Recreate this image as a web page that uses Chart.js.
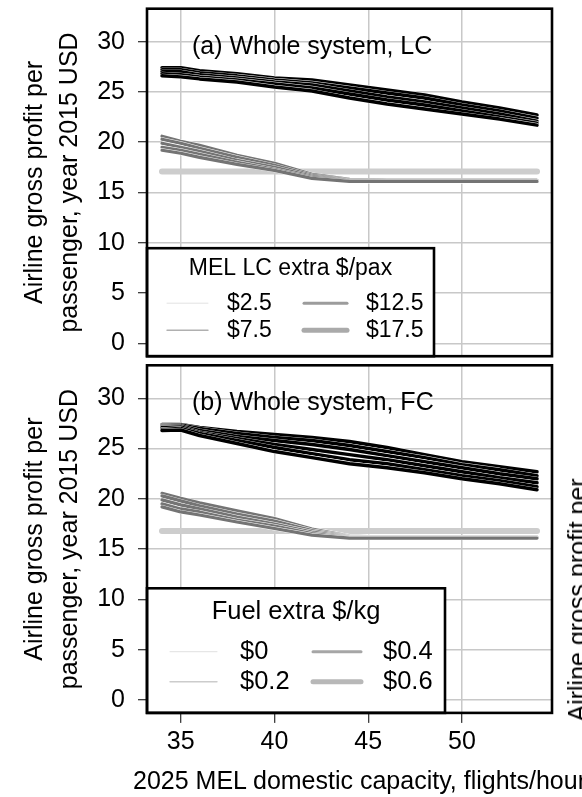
<!DOCTYPE html>
<html>
<head>
<meta charset="utf-8">
<title>Airline gross profit per passenger</title>
<script src="https://cdn.jsdelivr.net/npm/chart.js@4.4.1/dist/chart.umd.min.js"></script>
<style>
  html, body { margin:0; padding:0; background:#fff; }
  body { width:582px; height:797px; position:relative; overflow:hidden;
         font-family:"Liberation Sans", Arial, Helvetica, sans-serif; color:#000; }
  canvas { position:absolute; left:0; }
  #panelA { top:0; }
  #panelB { top:356px; }
  .htext { position:absolute; white-space:nowrap; font-size:25px; line-height:26px; }
  #xTitle { left:133px; top:767px; }
  #rightLabel { left:577px; top:600px; transform: translate(-50%,-50%) rotate(-90deg); }
</style>
</head>
<body>
<canvas id="panelA" width="582" height="362"></canvas>
<canvas id="panelB" width="582" height="441"></canvas>
<div id="xTitle" class="htext"></div>
<div id="rightLabel" class="htext"></div>
<script>
const FONT = '"Liberation Sans", Arial, Helvetica, sans-serif';

// ---------- data ----------
const xValues = [34, 35, 36, 38, 40, 42, 44, 46, 48, 50, 52, 54];
const flatX = [34, 54];
const xTicks = [35, 40, 45, 50];
const yTicks = [0, 5, 10, 15, 20, 25, 30];
const xRange = [33.2, 54.8];
const yRange = [-1.28, 33.28];

const panelTitles = ['(a) Whole system, LC', '(b) Whole system, FC'];
const legendTitles = ['MEL LC extra $/pax', 'Fuel extra $/kg'];
const legendLabelsA = ['$2.5', '$7.5', '$12.5', '$17.5'];
const legendLabelsB = ['$0', '$0.2', '$0.4', '$0.6'];
const yTitle = ['Airline gross profit per', 'passenger, year 2015 USD'];
const xTitle = '2025 MEL domestic capacity, flights/hour';
const rightLabel = 'Airline gross profit per';

// panel (a)
const blackA1 = [27.4, 27.4, 27.1, 26.8, 26.4, 26.2, 25.7, 25.2, 24.7, 24.0, 23.4, 22.7];
const blackA2 = [27.2, 27.2, 26.9, 26.6, 26.2, 25.9, 25.4, 24.9, 24.4, 23.7, 23.1, 22.4];
const blackA3 = [27.0, 27.0, 26.7, 26.4, 26.0, 25.7, 25.1, 24.5, 24.0, 23.4, 22.8, 22.1];
const blackA4 = [26.8, 26.7, 26.5, 26.2, 25.8, 25.4, 24.8, 24.2, 23.7, 23.1, 22.5, 21.9];
const blackA5 = [26.6, 26.5, 26.3, 26.0, 25.5, 25.1, 24.4, 23.8, 23.3, 22.8, 22.3, 21.7];
const grayA1 = [20.6, 20.1, 19.7, 18.7, 17.9, 16.8, 16.3, 16.2, 16.2, 16.2, 16.2, 16.2];
const grayA2 = [20.3, 19.9, 19.4, 18.5, 17.7, 16.7, 16.25, 16.2, 16.2, 16.2, 16.2, 16.2];
const grayA3 = [19.9, 19.5, 19.1, 18.2, 17.5, 16.6, 16.2, 16.15, 16.15, 16.15, 16.15, 16.15];
const grayA4 = [19.5, 19.2, 18.8, 18.0, 17.3, 16.5, 16.15, 16.1, 16.1, 16.1, 16.1, 16.1];
const grayA5 = [19.2, 18.9, 18.5, 17.8, 17.2, 16.4, 16.1, 16.1, 16.1, 16.1, 16.1, 16.1];
const lightA = [17.1, 17.1];

// panel (b)
const blackB1 = [27.4, 27.4, 27.1, 26.7, 26.4, 26.1, 25.7, 25.1, 24.4, 23.7, 23.2, 22.7];
const blackB2 = [27.3, 27.35, 27.0, 26.5, 26.1, 25.8, 25.3, 24.7, 24.1, 23.4, 22.9, 22.3];
const blackB3 = [27.2, 27.25, 26.8, 26.2, 25.8, 25.4, 24.9, 24.3, 23.7, 23.1, 22.5, 22.0];
const blackB4 = [27.1, 27.15, 26.6, 26.0, 25.4, 24.9, 24.4, 23.9, 23.3, 22.7, 22.1, 21.6];
const blackB5 = [26.9, 27.0, 26.5, 25.8, 25.1, 24.5, 23.9, 23.5, 22.9, 22.3, 21.8, 21.2];
const blackB6 = [26.8, 26.85, 26.3, 25.5, 24.7, 24.1, 23.5, 23.1, 22.6, 22.0, 21.5, 20.9];
const grayB1 = [20.55, 20.05, 19.6, 18.8, 18.05, 17.0, 16.3, 16.2, 16.2, 16.2, 16.2, 16.2];
const grayB2 = [20.3, 19.8, 19.3, 18.5, 17.8, 16.85, 16.25, 16.2, 16.2, 16.2, 16.2, 16.2];
const grayB3 = [19.9, 19.4, 19.0, 18.2, 17.5, 16.7, 16.2, 16.2, 16.2, 16.2, 16.2, 16.2];
const grayB4 = [19.5, 19.0, 18.7, 17.9, 17.3, 16.55, 16.15, 16.15, 16.15, 16.15, 16.15, 16.15];
const grayB5 = [19.2, 18.7, 18.4, 17.7, 17.05, 16.4, 16.1, 16.1, 16.1, 16.1, 16.1, 16.1];
const lightB = [16.8, 16.8];

// ---------- helpers ----------
const pts = (xs, ys) => xs.map((x, i) => ({ x: x, y: ys[i] }));
const line = (data, color, width) => ({
  data: data, borderColor: color, borderWidth: width, pointRadius: 0,
  fill: false, tension: 0, borderCapStyle: 'round', borderJoinStyle: 'round'
});

function buildDatasets(light, grays, blacks) {
  const bottomToTop = [];
  bottomToTop.push(line(pts(flatX, light), '#cdcdcd', 6));
  grays.forEach(g => {
    bottomToTop.push(line(pts(xValues, g), '#ffffff', 4));
    bottomToTop.push(line(pts(xValues, g), '#747474', 3.2));
  });
  blacks.forEach(b => {
    bottomToTop.push(line(pts(xValues, b), '#ffffff', 4.2));
    bottomToTop.push(line(pts(xValues, b), '#000000', 3.5));
  });
  // Chart.js draws dataset 0 last (on top)
  return bottomToTop.reverse();
}

function decoPlugin(cfg) {
  return {
    id: 'deco',
    afterDatasetsDraw(chart) {
      const ctx = chart.ctx, a = chart.chartArea;
      const L = cfg.legend;
      ctx.save();
      // panel title
      ctx.fillStyle = '#000';
      ctx.font = '25px ' + FONT;
      ctx.textAlign = 'left';
      ctx.textBaseline = 'middle';
      ctx.fillText(cfg.title, a.left + 45, a.top + 38);
      // legend box
      const bx = a.left, by = a.bottom - L.h;
      ctx.fillStyle = '#fff';
      ctx.fillRect(bx, by, L.w, L.h);
      ctx.lineWidth = 2.6;
      ctx.strokeStyle = '#000';
      ctx.strokeRect(bx, by, L.w, L.h);
      ctx.fillStyle = '#000';
      ctx.font = L.size + 'px ' + FONT;
      ctx.textAlign = 'center';
      ctx.fillText(L.title, bx + L.w / 2, by + L.titleDy);
      ctx.textAlign = 'left';
      L.labels.forEach((lab, i) => {
        const col = Math.floor(i / 2), row = i % 2;
        const y = by + L.rowDy[row];
        const st = L.styles[i];
        ctx.beginPath();
        ctx.lineCap = 'round';
        ctx.strokeStyle = st.c;
        ctx.lineWidth = st.w;
        ctx.moveTo(bx + L.seg[col][0], y);
        ctx.lineTo(bx + L.seg[col][1], y);
        ctx.stroke();
        ctx.fillStyle = '#000';
        ctx.fillText(lab, bx + L.labX[col], y);
      });
      // frame
      ctx.lineWidth = 2.6;
      ctx.strokeStyle = '#000';
      ctx.lineCap = 'butt';
      ctx.strokeRect(a.left, a.top, a.right - a.left, a.bottom - a.top);
      ctx.restore();
    }
  };
}

function makeChart(id, cfg) {
  const tickFont = { family: FONT, size: 25 };
  return new Chart(document.getElementById(id), {
    type: 'line',
    data: { datasets: cfg.datasets },
    options: {
      responsive: false, animation: false, devicePixelRatio: 1, events: [],
      layout: { padding: cfg.padding, autoPadding: false },
      plugins: { legend: { display: false }, tooltip: { enabled: false }, title: { display: false } },
      scales: {
        x: {
          type: 'linear', min: xRange[0], max: xRange[1],
          afterBuildTicks: s => { s.ticks = xTicks.map(v => ({ value: v })); },
          afterFit: s => { s.height = cfg.xHeight; s.paddingLeft = 0; s.paddingRight = 0; s.paddingTop = 0; s.paddingBottom = 0; },
          ticks: { display: cfg.showX, autoSkip: false, maxRotation: 0, color: '#000',
                   font: tickFont, padding: 4, callback: v => String(v) },
          grid: { color: '#c8c8c8', lineWidth: 1.5, drawTicks: cfg.showX, tickLength: 10,
                  tickColor: '#000', tickWidth: 1 },
          border: { display: false }
        },
        y: {
          type: 'linear', min: yRange[0], max: yRange[1],
          afterBuildTicks: s => { s.ticks = yTicks.map(v => ({ value: v })); },
          afterFit: s => { s.width = 147; s.paddingTop = 0; s.paddingBottom = 0; s.paddingLeft = 0; s.paddingRight = 0; },
          ticks: { autoSkip: false, color: '#000', font: tickFont, padding: 13,
                   callback: v => String(v) },
          grid: { color: '#c8c8c8', lineWidth: 1.5, drawTicks: true, tickLength: 9,
                  tickColor: '#000', tickWidth: 1 },
          border: { display: false },
          title: { display: true, text: yTitle, color: '#000',
                   font: { family: FONT, size: 25, lineHeight: 1.4 },
                   padding: { top: 17.5, bottom: 0 } }
        }
      }
    },
    plugins: [decoPlugin(cfg)]
  });
}

makeChart('panelA', {
  datasets: buildDatasets(lightA, [grayA1, grayA2, grayA3, grayA4, grayA5],
                          [blackA1, blackA2, blackA3, blackA4, blackA5]),
  padding: { top: 8.7, bottom: 5.8, left: 0, right: 30 },
  xHeight: 0, showX: false,
  title: panelTitles[0],
  legend: {
    title: legendTitles[0], labels: legendLabelsA, size: 23,
    w: 287, h: 108, titleDy: 20, rowDy: [55, 82],
    seg: [[20, 61], [157, 200]], labX: [80, 219],
    styles: [{ c: '#e3e3e3', w: 1 }, { c: '#b0b0b0', w: 1.4 }, { c: '#9c9c9c', w: 3 }, { c: '#aaaaaa', w: 5 }]
  }
});

makeChart('panelB', {
  datasets: buildDatasets(lightB, [grayB1, grayB2, grayB3, grayB4, grayB5],
                          [blackB1, blackB2, blackB3, blackB4, blackB5, blackB6]),
  padding: { top: 9.3, bottom: 0, left: 0, right: 30 },
  xHeight: 84.1, showX: true,
  title: panelTitles[1],
  legend: {
    title: legendTitles[1], labels: legendLabelsB, size: 25.5,
    w: 298, h: 124.6, titleDy: 23.4, rowDy: [63.4, 93.4],
    seg: [[23, 70], [166, 214]], labX: [93, 236],
    styles: [{ c: '#e0e0e0', w: 1 }, { c: '#cccccc', w: 1.4 }, { c: '#a6a6a6', w: 3 }, { c: '#b8b8b8', w: 5 }]
  }
});

document.getElementById('xTitle').textContent = xTitle;
document.getElementById('rightLabel').textContent = rightLabel;
</script>
</body>
</html>
